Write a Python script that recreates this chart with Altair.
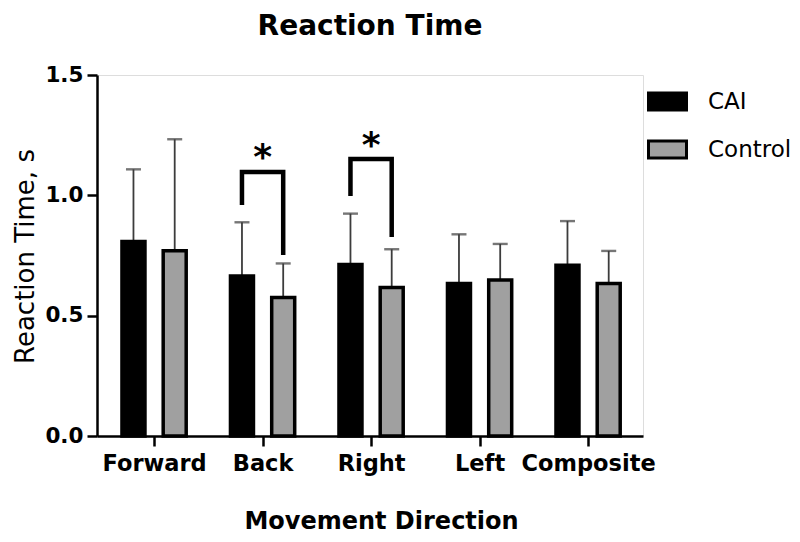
import altair as alt
import pandas as pd

# ---- data ----
categories = ["Forward", "Back", "Right", "Left", "Composite"]
groups = ["CAI", "Control"]
cai_mean = [0.808, 0.665, 0.713, 0.634, 0.710]
cai_sd = [0.300, 0.223, 0.211, 0.204, 0.183]
ctrl_mean = [0.770, 0.575, 0.617, 0.648, 0.634]
ctrl_sd = [0.463, 0.142, 0.159, 0.150, 0.135]

sig_categories = ["Back", "Right"]
sig_left_y = [0.960, 0.997]
sig_top_y = [1.097, 1.151]
sig_right_y = [0.752, 0.827]
sig_star_y = [1.197, 1.246]
sig_label = ["*", "*"]

# ---- layout constants ----
GROUP_OFFSET = {"CAI": -0.19, "Control": 0.19}
FONT = "DejaVu Sans"

rows = []
for i, c in enumerate(categories):
    rows.append({"cat": c, "group": "CAI", "mean": cai_mean[i], "sd": cai_sd[i]})
    rows.append({"cat": c, "group": "Control", "mean": ctrl_mean[i], "sd": ctrl_sd[i]})
df = pd.DataFrame(rows)
df["pos"] = [categories.index(c) + GROUP_OFFSET[g] for c, g in zip(df["cat"], df["group"])]
df["top"] = df["mean"] + df["sd"]

brows = []
for j, c in enumerate(sig_categories):
    k = categories.index(c)
    pts = [("CAI", sig_left_y[j]), ("CAI", sig_top_y[j]),
           ("Control", sig_top_y[j]), ("Control", sig_right_y[j])]
    for s, (g, yv) in enumerate(pts):
        brows.append({"cat": c, "step": s, "pos": k + GROUP_OFFSET[g], "y": yv})
bdf = pd.DataFrame(brows)
sdf = pd.DataFrame({
    "cat": sig_categories,
    "pos": [categories.index(c) for c in sig_categories],
    "y": sig_star_y,
    "label": sig_label,
})

label_expr = "[" + ",".join("'%s'" % c for c in categories) + "][datum.value]"

x_scale = alt.Scale(domain=[-0.48, 4.46], nice=False, zero=False)
y_scale = alt.Scale(domain=[0, 1.5], nice=False)

x_axis = alt.Axis(
    values=[0, 1, 2, 3, 4], labelExpr=label_expr, title="Movement Direction",
    grid=False, domainColor="black", domainWidth=2.5, tickColor="black",
    tickWidth=2.5, tickSize=10, labelFont=FONT, labelFontSize=22.5,
    labelFontWeight="bold", labelColor="black", labelPadding=6,
    titleFont=FONT, titleFontSize=24, titleFontWeight="bold", titleColor="black",
    titleX=284, titleY=92, titleBaseline="alphabetic", titleAlign="center",
    labelFlush=False,
)
y_axis = alt.Axis(
    values=[0, 0.5, 1.0, 1.5], format=".1f", title="Reaction Time, s",
    grid=False, domainColor="black", domainWidth=2.5, tickColor="black",
    tickWidth=2.5, tickSize=10, labelFont=FONT, labelFontSize=21.5,
    labelFontWeight="bold", labelColor="black", labelPadding=4,
    titleFont=FONT, titleFontSize=26, titleFontWeight="normal", titleColor="black",
    titleAngle=270, titleX=-64, titleY=181, titleBaseline="alphabetic",
    titleAlign="center",
)

base = alt.Chart(df)

bars = base.mark_bar(size=23, stroke="black", strokeWidth=3.5).encode(
    x=alt.X("pos:Q", scale=x_scale, axis=x_axis),
    y=alt.Y("mean:Q", scale=y_scale, axis=y_axis),
    fill=alt.Fill(
        "group:N",
        scale=alt.Scale(domain=groups, range=["#000000", "#a0a0a0"]),
        legend=alt.Legend(
            title=None, orient="none", legendX=550, legendY=6,
            symbolType="M-1,-0.45L1,-0.45L1,0.45L-1,0.45Z", symbolSize=1444,
            symbolStrokeColor="black", symbolStrokeWidth=3, symbolOpacity=1,
            labelFont=FONT, labelFontSize=23, labelColor="black",
            labelOffset=20, rowPadding=12, padding=0,
        ),
    ),
)

err = base.mark_rule(color="#3c3c3c", strokeWidth=1.8).encode(
    x="pos:Q", y="mean:Q", y2="top:Q"
)
caps = base.mark_tick(orient="horizontal", color="#3c3c3c", size=15, thickness=2.4).encode(
    x="pos:Q", y="top:Q"
)

brackets = alt.Chart(bdf).mark_line(
    color="black", strokeWidth=4.5, strokeJoin="miter", strokeCap="butt"
).encode(
    x="pos:Q", y="y:Q", detail="cat:N", order="step:Q"
)

stars = alt.Chart(sdf).mark_text(
    font=FONT, fontSize=36, fontWeight="bold", color="black",
    baseline="alphabetic", dy=21,
).encode(x="pos:Q", y="y:Q", text="label:N")

chart = alt.layer(err, caps, bars, brackets, stars).properties(
    width=546, height=361,
    autosize=alt.AutoSizeParams(type="none"),
    padding={"left": 89, "top": 67, "right": 149, "bottom": 98},
    title=alt.TitleParams(
        "Reaction Time", font=FONT, fontSize=28, fontWeight="bold",
        color="black", anchor="middle", offset=23,
    ),
).configure_view(stroke=None).configure(background="white")

chart.save("out.html", embed_options={"renderer": "svg", "actions": False})
